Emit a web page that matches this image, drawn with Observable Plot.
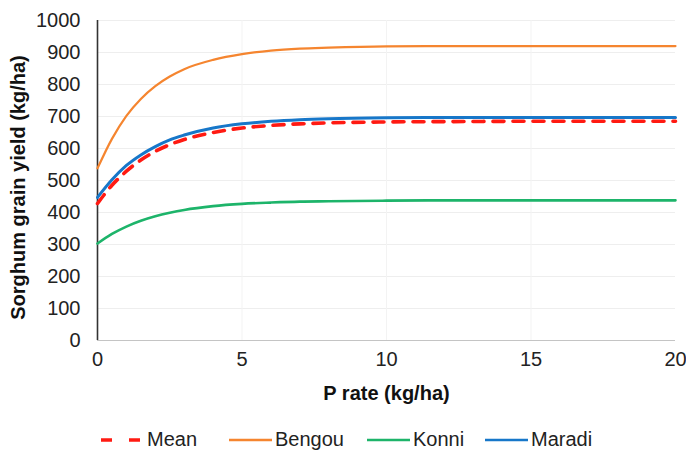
<!DOCTYPE html>
<html>
<head>
<meta charset="utf-8">
<script src="https://cdn.jsdelivr.net/npm/d3@7"></script>
<script src="https://cdn.jsdelivr.net/npm/@observablehq/plot@0.6"></script>
<style>
  body { margin: 0; background: white; font-family: "Liberation Sans", Arial, sans-serif; }
  #wrap { position: relative; width: 686px; height: 458px; }
  #legend { position: absolute; left: 0; top: 421px; width: 686px; height: 37px; }
  .item { position: absolute; top: 0; height: 37px; display: flex; align-items: center; font-size: 20px; color: #222; }
  .item svg { margin-right: 3px; }
</style>
</head>
<body>
<div id="wrap"><div id="chart"></div><div id="legend"></div></div>
<script>
// P rate (kg/ha)
const pRate = [0, 0.5, 1, 1.5, 2, 2.5, 3, 4, 5, 6, 7, 8, 10, 12, 15, 20];
// Sorghum grain yield (kg/ha)
const mean   = [428, 485, 529, 564, 591, 612, 628, 650, 664, 672, 677, 680, 683, 684, 685, 685];
const bengou = [538, 630, 702, 755, 795, 825, 848, 877, 895, 906, 912, 915, 919, 920, 920, 920];
const konni  = [303, 333, 356, 374, 388, 399, 408, 420, 427, 431, 434, 435, 437, 438, 438, 438];
const maradi = [447, 502, 547, 580, 606, 627, 642, 664, 677, 685, 690, 693, 696, 697, 697, 697];

const seriesNames = ["Mean", "Bengou", "Konni", "Maradi"];
const seriesColors = ["#ff1a12", "#f5852f", "#1db46a", "#1777c9"];
const xTicks = [0, 5, 10, 15, 20];
const yTicks = [0, 100, 200, 300, 400, 500, 600, 700, 800, 900, 1000];

const toRows = (name, vals) => vals.map((v, i) => ({series: name, p: pRate[i], y: v}));
const rowsMean = toRows("Mean", mean);
const rowsBengou = toRows("Bengou", bengou);
const rowsKonni = toRows("Konni", konni);
const rowsMaradi = toRows("Maradi", maradi);

const chart = Plot.plot({
  width: 686,
  height: 421,
  marginLeft: 97,
  marginRight: 11,
  marginTop: 20,
  marginBottom: 81,
  style: {fontFamily: "'Liberation Sans', Arial, sans-serif", fontSize: "20px", color: "#222", background: "white"},
  x: {domain: [0, 20]},
  y: {domain: [0, 1000]},
  marks: [
    Plot.gridY(yTicks, {stroke: "#eeeeee", strokeOpacity: 1}),
    Plot.gridX([5, 10, 15], {stroke: "#f3f3f3", strokeOpacity: 1}),
    Plot.ruleY([0], {stroke: "#c4c4c4", strokeWidth: 1.2}),
    Plot.ruleX([0], {stroke: "#333", strokeWidth: 1.6}),
    Plot.axisY(yTicks, {tickSize: 0, tickPadding: 17, label: null, fontSize: 20, fill: "#222", tickFormat: d => String(d)}),
    Plot.axisX(xTicks, {tickSize: 0, tickPadding: 11, label: null, fontSize: 20, fill: "#222", tickFormat: d => String(d)}),
    Plot.line(rowsBengou, {x: "p", y: "y", stroke: seriesColors[1], strokeWidth: 2.2, curve: "monotone-x"}),
    Plot.line(rowsKonni, {x: "p", y: "y", stroke: seriesColors[2], strokeWidth: 2.6, curve: "monotone-x"}),
    Plot.line(rowsMaradi, {x: "p", y: "y", stroke: seriesColors[3], strokeWidth: 3, curve: "monotone-x"}),
    Plot.line(rowsMean, {x: "p", y: "y", stroke: seriesColors[0], strokeWidth: 3.6, strokeDasharray: "11,9", curve: "monotone-x"}),
    Plot.text(["P rate (kg/ha)"], {frameAnchor: "bottom", dy: 59, fontWeight: "bold", fontSize: 20, fill: "#111"}),
    Plot.text(["Sorghum grain yield (kg/ha)"], {frameAnchor: "left", textAnchor: "middle", rotate: -90, dx: -79, dy: 7, fontWeight: "bold", fontSize: 20, fill: "#111"})
  ]
});
document.getElementById("chart").appendChild(chart);

// legend
const legendX = [101, 229, 367, 485];
const legend = document.getElementById("legend");
seriesNames.forEach((name, i) => {
  const item = document.createElement("div");
  item.className = "item";
  item.style.left = legendX[i] + "px";
  const dashed = name === "Mean";
  item.innerHTML = `<svg width="43" height="10"><line x1="0" y1="5" x2="43" y2="5" stroke="${seriesColors[i]}" stroke-width="${dashed ? 3.6 : 2.5}" ${dashed ? 'stroke-dasharray="11,17"' : ''}/></svg><span>${name}</span>`;
  legend.appendChild(item);
});
</script>
</body>
</html>
